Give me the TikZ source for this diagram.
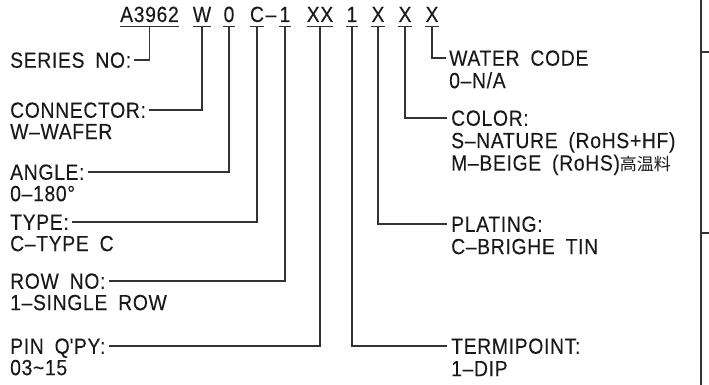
\documentclass[tikz,border=0pt]{standalone}
\usepackage{fontspec}
\setmainfont{Liberation Sans}[Ligatures=TeX, LetterSpace=3, WordSpace=1.8, FakeStretch=0.88, FakeBold=0.1]
\newfontfamily\cjkfont{Noto Sans CJK SC}
\usetikzlibrary{positioning}
\newcommand{\cadfont}{\fontsize{22}{23}\selectfont}
\tikzstyle{code} = [
    inner sep=0pt,
    anchor=base,
    font=\cadfont,
    text=black!90
]
\tikzstyle{lbl} = [
    inner sep=0pt,
    anchor=west,
    text height=15.5pt,
    text depth=0pt,
    font=\cadfont,
    text=black!90
]
\tikzstyle{lead} = [
    line width=1.1pt,
    draw=black!80
]
\begin{document}
\begin{tikzpicture}[x=1pt, y=-1pt]
        \useasboundingbox (0,0) rectangle (709,385);

        % Part number
        \node[code] (ser) at (149.5,22) {A3962};
        \node[code] (con) at (202,22) {W};
        \node[code] (ang) at (229,22) {0};
        \node[code] (typ) at (257,22) {C};
        \node[code] (dsh) at (271,22) {--};
        \node[code] (row) at (285,22) {1};
        \node[code] (pin) at (320,22) {XX};
        \node[code] (trm) at (352,22) {1};
        \node[code] (plt) at (378,22) {X};
        \node[code] (col) at (405,22) {X};
        \node[code] (wat) at (432,22) {X};

        % Underlines
        \foreach \n in {ser,con,ang,typ,row,pin,trm,plt,col,wat}
            \draw[lead] ([yshift=-4.5pt]\n.base west) -- ([yshift=-4.5pt]\n.base east);

        % Left side
        \node[lbl] (ser_l) at (10,60) {SERIES NO:};
        \node[lbl] (con_l) at (10,110) {CONNECTOR:};
        \node[lbl, below=5.5pt of con_l.south west, anchor=north west] (con_v) {W--WAFER};
        \node[lbl] (ang_l) at (10,172) {ANGLE:};
        \node[lbl, below=5.5pt of ang_l.south west, anchor=north west] (ang_v) {0--180°};
        \node[lbl] (typ_l) at (10,222) {TYPE:};
        \node[lbl, below=5.5pt of typ_l.south west, anchor=north west] (typ_v) {C--TYPE C};
        \node[lbl] (row_l) at (10,281) {ROW NO:};
        \node[lbl, below=5.5pt of row_l.south west, anchor=north west] (row_v) {1--SINGLE ROW};
        \node[lbl] (pin_l) at (10,346) {PIN Q\textquotesingle PY:};
        \node[lbl, below=5.5pt of pin_l.south west, anchor=north west] (pin_v) {03\textasciitilde 15};

        % Right side
        \node[lbl] (wat_l) at (449,58) {WATER CODE};
        \node[lbl, below=6.5pt of wat_l.south west, anchor=north west] (wat_v) {0--N/A};
        \node[lbl] (col_l) at (451,118) {COLOR:};
        \node[lbl, below=6.5pt of col_l.south west, anchor=north west] (col_v) {S--NATURE (RoHS+HF)};
        \node[lbl, below=6.5pt of col_v.south west, anchor=north west] (col_w) {M--BEIGE (RoHS){\cjkfont\fontsize{17}{17}\selectfont 高温料}};
        \node[lbl] (plt_l) at (451,224) {PLATING:};
        \node[lbl, below=6.5pt of plt_l.south west, anchor=north west] (plt_v) {C--BRIGHE TIN};
        \node[lbl] (trm_l) at (451,346) {TERMIPOINT:};
        \node[lbl, below=6.5pt of trm_l.south west, anchor=north west] (trm_v) {1--DIP};

        % Leaders
        \foreach \n in {ser,con,ang,typ,row,pin}
            \draw[lead] ([xshift=3pt]\n_l.east) -| ([yshift=-4.5pt]\n.base);
        \foreach \n in {trm,plt,col}
            \draw[lead] ([yshift=-4.5pt]\n.base) |- ([xshift=-4pt]\n_l.west);
        \draw[lead] ([yshift=-4.5pt]wat.base) |- ([xshift=-3pt]wat_l.west);

        % Frame
        \draw[lead] (701,0) -- (701,385);
        \draw[lead] (701,52) -- (709,52);
        \draw[lead] (701,233) -- (709,233);
    \end{tikzpicture}
\end{document}
